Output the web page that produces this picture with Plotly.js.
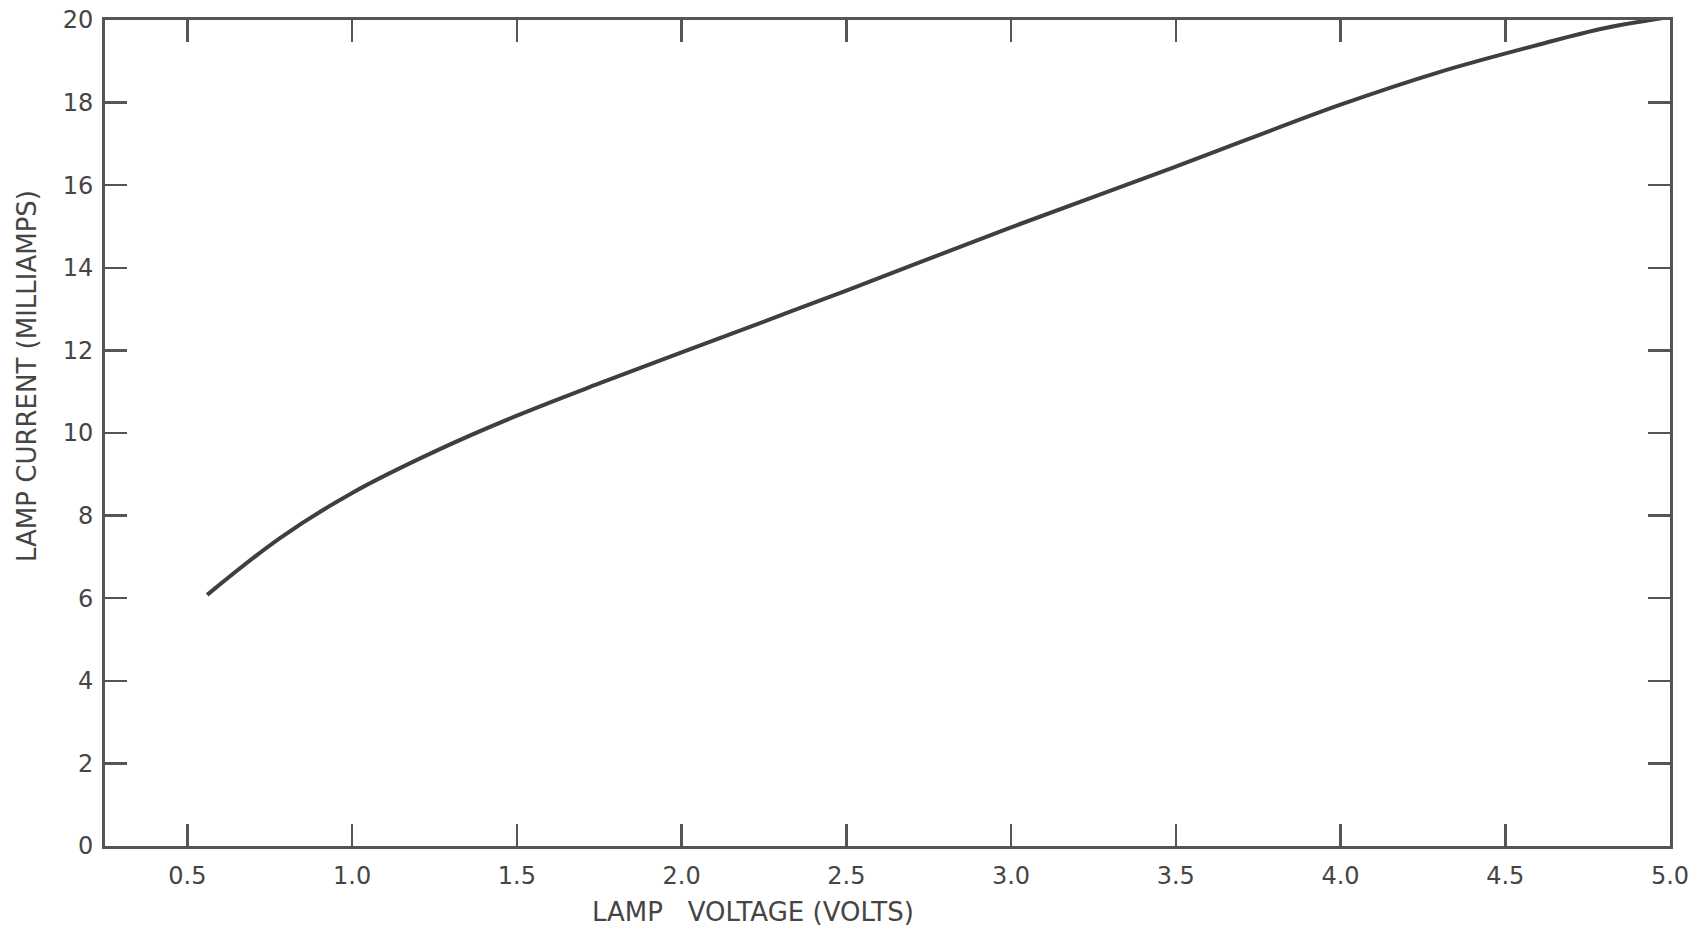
<!DOCTYPE html>
<html>
<head>
<meta charset="utf-8">
<script src="https://cdn.plot.ly/plotly-3.0.1.min.js"></script>
<style>html,body{margin:0;padding:0;background:#fff;}#chart{width:1700px;height:929px;}</style>
</head>
<body>
<div id="chart"></div>
<script>
const lampVoltage = [0.56, 0.78, 1.00, 1.25, 1.50, 1.75, 2.00, 2.50, 3.00, 3.50, 4.00, 4.30, 4.60, 4.80, 4.98];
const lampCurrent = [6.08, 7.45, 8.55, 9.55, 10.42, 11.20, 11.95, 13.45, 14.98, 16.45, 17.95, 18.74, 19.40, 19.80, 20.05];
const xTickVals = [0.5, 1.0, 1.5, 2.0, 2.5, 3.0, 3.5, 4.0, 4.5, 5.0];
const xTickText = ["0.5", "1.0", "1.5", "2.0", "2.5", "3.0", "3.5", "4.0", "4.5", "5.0"];
const yTickVals = [0, 2, 4, 6, 8, 10, 12, 14, 16, 18, 20];
const xTitle = "LAMP&nbsp;&nbsp;&nbsp;VOLTAGE (VOLTS)";
const yTitle = "LAMP CURRENT (MILLIAMPS)";

const ink = '#454545';
const font = {family: 'DejaVu Sans, sans-serif', size: 24, color: ink};
const titleFont = {family: 'DejaVu Sans, sans-serif', size: 26, color: ink};

const trace = {
  x: lampVoltage, y: lampCurrent, type: 'scatter', mode: 'lines',
  line: {color: '#3f3f3f', width: 4, shape: 'spline', smoothing: 1},
  hoverinfo: 'x+y'
};

const axisCommon = {
  showline: true, linecolor: '#555', linewidth: 3, mirror: 'ticks',
  ticks: 'inside', ticklen: 22, tickwidth: 2.5, tickcolor: '#555',
  showgrid: false, zeroline: false, tickfont: font
};

const layout = {
  width: 1700, height: 929,
  margin: {l: 105, r: 30, t: 20, b: 83},
  paper_bgcolor: '#fff', plot_bgcolor: '#fff',
  showlegend: false,
  font: font,
  xaxis: Object.assign({}, axisCommon, {
    range: [0.25, 5.0], tickmode: 'array', tickvals: xTickVals, ticktext: xTickText,
    ticklabelstandoff: 6
  }),
  yaxis: Object.assign({}, axisCommon, {
    range: [0, 20], tickmode: 'array', tickvals: yTickVals,
    ticklabelstandoff: 4
  }),
  annotations: [
    {text: xTitle, xref: 'paper', yref: 'paper', x: (753 - 105) / 1565, y: -(912 - 846) / 826,
     xanchor: 'center', yanchor: 'middle', showarrow: false, font: titleFont},
    {text: yTitle, xref: 'paper', yref: 'paper', x: -(105 - 27) / 1565, y: (846 - 376) / 826,
     xanchor: 'center', yanchor: 'middle', showarrow: false, textangle: -90, font: titleFont}
  ]
};

Plotly.newPlot('chart', [trace], layout, {displayModeBar: false, staticPlot: true});
</script>
</body>
</html>
